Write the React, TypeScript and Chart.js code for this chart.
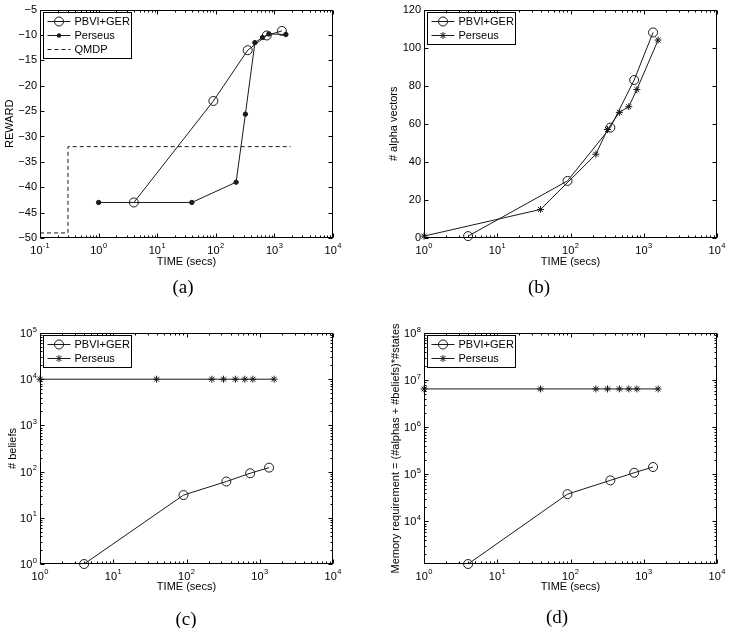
import React, { useEffect, useRef } from "react";
import { Chart, registerables } from "chart.js";

Chart.register(...registerables);

const SANS = "'Liberation Sans', Arial, Helvetica, sans-serif";
const SERIF = "'Liberation Serif', 'Times New Roman', serif";

// Wall-clock time (s) at which each iteration finished
const timePBVI = [4, 91, 350, 740, 1340];
const timePerseus = [1, 39, 222, 320, 465, 625, 805, 1570];

// (a) average reward
const rewardPBVI = [-43, -23, -13, -10.1, -9.2];
const rewardPerseus = [-43, -43, -39, -25.6, -11.5, -10.5, -9.8, -9.9];
const timeQMDP = [0.1, 0.3, 0.3, 1900];
const rewardQMDP = [-49, -49, -32, -32];

// (b) size of the value function
const alphasPBVI = [1, 30, 58, 83, 108];
const alphasPerseus = [1, 15, 44, 57, 66, 69, 78, 104];

// (c) belief set size
const beliefsPBVI = [1, 31, 61, 92, 122];
const beliefsPerseus = [10000, 10000, 10000, 10000, 10000, 10000, 10000, 10000];

// (d) memory = (#alphas + #beliefs) * #states
const memoryPBVI = [1250, 38000, 74500, 108000, 143000];
const memoryPerseus = [6.5e6, 6.5e6, 6.5e6, 6.5e6, 6.5e6, 6.5e6, 6.5e6, 6.5e6];

// axis ticks
const timeTicksA = [0.1, 1, 10, 100, 1000, 10000];
const timeTicks = [1, 10, 100, 1000, 10000];
const rewardTicks = [-50, -45, -40, -35, -30, -25, -20, -15, -10, -5];
const alphaTicks = [0, 20, 40, 60, 80, 100, 120];
const beliefTicks = [1, 10, 100, 1000, 10000, 100000];
const memoryTicks = [10000, 100000, 1000000, 10000000, 100000000];

type Marker = "circle" | "dot" | "star";
type Series = { label: string; x: number[]; y: number[]; marker: Marker; dashed?: boolean };

type PanelDef = {
  id: string;
  canvas: [number, number, number, number]; // left, top, width, height
  plot: [number, number, number, number]; // L, T, R, B (page px)
  xMin: number;
  xMax: number;
  xTicks: number[];
  yLog: boolean;
  yMin: number;
  yMax: number;
  yTicks: number[];
  yTitle: string;
  yTitleX: number;
  xTitle: string;
  xTitleY: number;
  caption: string;
  captionX: number;
  captionY: number;
  series: Series[];
};

const linLabel = (v: number) => String(v).replace("-", "\u2212");
const expOf = (v: number) => String(Math.round(Math.log10(v)));

const panels: PanelDef[] = [
  {
    id: "a",
    canvas: [0, 0, 364, 300],
    plot: [40, 6, 333, 238],
    xMin: 0.1, xMax: 10000, xTicks: timeTicksA,
    yLog: false, yMin: -50, yMax: -5, yTicks: rewardTicks,
    yTitle: "REWARD", yTitleX: 10,
    xTitle: "TIME (secs)", xTitleY: 262,
    caption: "(a)", captionX: 183, captionY: 287,
    series: [
      { label: "PBVI+GER", x: timePBVI, y: rewardPBVI, marker: "circle" },
      { label: "Perseus", x: timePerseus, y: rewardPerseus, marker: "dot" },
      { label: "QMDP", x: timeQMDP, y: rewardQMDP, marker: "dot", dashed: true },
    ],
  },
  {
    id: "b",
    canvas: [364, 0, 365, 300],
    plot: [424, 7, 717, 238],
    xMin: 1, xMax: 10000, xTicks: timeTicks,
    yLog: false, yMin: 0, yMax: 120, yTicks: alphaTicks,
    yTitle: "# alpha vectors", yTitleX: 394,
    xTitle: "TIME (secs)", xTitleY: 262,
    caption: "(b)", captionX: 539, captionY: 287,
    series: [
      { label: "PBVI+GER", x: timePBVI, y: alphasPBVI, marker: "circle" },
      { label: "Perseus", x: timePerseus, y: alphasPerseus, marker: "star" },
    ],
  },
  {
    id: "c",
    canvas: [0, 300, 364, 328],
    plot: [40, 333, 333, 564],
    xMin: 1, xMax: 10000, xTicks: timeTicks,
    yLog: true, yMin: 1, yMax: 100000, yTicks: beliefTicks,
    yTitle: "# beliefs", yTitleX: 13,
    xTitle: "TIME (secs)", xTitleY: 587,
    caption: "(c)", captionX: 186, captionY: 619,
    series: [
      { label: "PBVI+GER", x: timePBVI, y: beliefsPBVI, marker: "circle" },
      { label: "Perseus", x: timePerseus, y: beliefsPerseus, marker: "star" },
    ],
  },
  {
    id: "d",
    canvas: [364, 300, 365, 328],
    plot: [424, 333, 717, 564],
    xMin: 1, xMax: 10000, xTicks: timeTicks,
    yLog: true, yMin: 1250, yMax: 100000000, yTicks: memoryTicks,
    yTitle: "Memory requirement = (#alphas + #beliefs)*#states", yTitleX: 396,
    xTitle: "TIME (secs)", xTitleY: 587,
    caption: "(d)", captionX: 557, captionY: 617,
    series: [
      { label: "PBVI+GER", x: timePBVI, y: memoryPBVI, marker: "circle" },
      { label: "Perseus", x: timePerseus, y: memoryPerseus, marker: "star" },
    ],
  },
];

const LINE = "#1a1a1a";
const MAIN_FONT = `11px ${SANS}`;
const SUP_FONT = `7.5px ${SANS}`;

function drawMarker(ctx: CanvasRenderingContext2D, kind: Marker, x: number, y: number) {
  ctx.beginPath();
  if (kind === "circle") {
    ctx.arc(x, y, 4.5, 0, Math.PI * 2);
    ctx.stroke();
  } else if (kind === "dot") {
    ctx.arc(x, y, 2.2, 0, Math.PI * 2);
    ctx.fill();
  } else {
    const r = 3.5;
    const d = r * Math.SQRT1_2;
    ctx.moveTo(x - r, y); ctx.lineTo(x + r, y);
    ctx.moveTo(x, y - r); ctx.lineTo(x, y + r);
    ctx.moveTo(x - d, y - d); ctx.lineTo(x + d, y + d);
    ctx.moveTo(x - d, y + d); ctx.lineTo(x + d, y - d);
    ctx.stroke();
  }
}

function logMinor(min: number, max: number): number[] {
  const out: number[] = [];
  for (let e = Math.floor(Math.log10(min)); e < Math.ceil(Math.log10(max)); e++) {
    const d = Math.pow(10, e);
    for (let k = 2; k <= 9; k++) {
      const v = k * d;
      if (v > min && v < max) out.push(v);
    }
  }
  return out;
}

// "10" with a raised exponent; anchor is the label's centre (x axis) or right end (y axis)
function powerLabel(
  ctx: CanvasRenderingContext2D,
  v: number,
  x: number,
  baseline: number,
  anchor: "center" | "right"
) {
  const exp = expOf(v);
  ctx.font = MAIN_FONT;
  const w1 = ctx.measureText("10").width;
  ctx.font = SUP_FONT;
  const w2 = ctx.measureText(exp).width;
  const total = w1 + 0.5 + w2;
  const start = anchor === "center" ? x - total / 2 : x - total;
  ctx.textAlign = "left";
  ctx.textBaseline = "alphabetic";
  ctx.font = MAIN_FONT;
  ctx.fillText("10", start, baseline);
  ctx.font = SUP_FONT;
  ctx.fillText(exp, start + w1 + 0.5, baseline - 5.5);
}

// Boxed axes with inward ticks on all sides, axis titles and an inset legend
const matlabFrame = {
  id: "matlabFrame",
  afterDatasetsDraw(chart: any, _args: any, opts: any) {
    const { ctx, chartArea: a } = chart;
    const xs = chart.scales.x;
    const ys = chart.scales.y;
    const L = Math.round(a.left) + 0.5;
    const R = Math.round(a.right) - 0.5;
    const T = Math.round(a.top) + 0.5;
    const B = Math.round(a.bottom) - 0.5;
    ctx.save();
    ctx.strokeStyle = "#000";
    ctx.fillStyle = "#000";
    ctx.lineWidth = 1;

    const xMajor: number[] = xs.ticks.map((t: any) => t.value);
    const xMinor = logMinor(xs.min, xs.max);
    const yMajor: number[] = ys.ticks.map((t: any) => t.value);
    const yMinor = opts.yLog ? logMinor(ys.min, ys.max) : [];

    ctx.beginPath();
    const xTick = (v: number, len: number) => {
      const p = Math.round(xs.getPixelForValue(v)) + 0.5;
      ctx.moveTo(p, B); ctx.lineTo(p, B - len);
      ctx.moveTo(p, T); ctx.lineTo(p, T + len);
    };
    const yTick = (v: number, len: number) => {
      const p = Math.round(ys.getPixelForValue(v)) + 0.5;
      ctx.moveTo(L, p); ctx.lineTo(L + len, p);
      ctx.moveTo(R, p); ctx.lineTo(R - len, p);
    };
    xMajor.forEach((v) => xTick(v, 4));
    xMinor.forEach((v) => xTick(v, 2));
    yMajor.forEach((v) => yTick(v, 4));
    yMinor.forEach((v) => yTick(v, 2));
    ctx.stroke();
    ctx.strokeRect(L, T, R - L, B - T);

    // power-of-ten tick labels for the log axes
    xMajor.forEach((v) => powerLabel(ctx, v, xs.getPixelForValue(v), a.bottom + 15.5, "center"));
    if (opts.yLog) {
      yMajor.forEach((v) => powerLabel(ctx, v, a.left - 3, ys.getPixelForValue(v) + 4, "right"));
    }

    // axis titles
    ctx.font = MAIN_FONT;
    ctx.textAlign = "center";
    ctx.textBaseline = "middle";
    ctx.fillText(opts.xTitle, (a.left + a.right) / 2, opts.xTitleY);
    ctx.save();
    ctx.translate(opts.yTitleX, (a.top + a.bottom) / 2);
    ctx.rotate(-Math.PI / 2);
    ctx.fillText(opts.yTitle, 0, 0);
    ctx.restore();

    // legend
    const ds = chart.data.datasets;
    const rowH = 14;
    const bx = Math.round(a.left) + 3 + 0.5;
    const by = Math.round(a.top) + 2 + 0.5;
    let tw = 0;
    ds.forEach((d: any) => { tw = Math.max(tw, ctx.measureText(d.label).width); });
    const bw = Math.round(31 + tw + 2);
    const bh = rowH * ds.length + 4;
    ctx.fillStyle = "#fff";
    ctx.fillRect(bx, by, bw, bh);
    ctx.strokeStyle = "#000";
    ctx.strokeRect(bx, by, bw, bh);
    ds.forEach((d: any, i: number) => {
      const cy = by + 9 + rowH * i;
      const dashed = d.borderDash && d.borderDash.length;
      ctx.strokeStyle = LINE;
      ctx.fillStyle = LINE;
      ctx.lineWidth = 1;
      ctx.setLineDash(dashed ? [4, 3] : []);
      ctx.beginPath();
      ctx.moveTo(bx + 4, cy);
      ctx.lineTo(bx + 27, cy);
      ctx.stroke();
      ctx.setLineDash([]);
      if (!dashed) drawMarker(ctx, d.marker, bx + 15.5, cy);
      ctx.fillStyle = "#000";
      ctx.textAlign = "left";
      ctx.textBaseline = "middle";
      ctx.fillText(d.label, bx + 31, cy + 0.5);
    });
    ctx.restore();
  },
};

function Panel({ def }: { def: PanelDef }) {
  const ref = useRef<HTMLCanvasElement | null>(null);
  useEffect(() => {
    const canvas = ref.current;
    if (!canvas) return;
    const [cl, ct, cw, ch] = def.canvas;
    const [L, T, R, B] = def.plot;
    const tickFont = { family: SANS, size: 11 };
    const chart = new Chart(canvas, {
      type: "line",
      data: {
        datasets: def.series.map((s) => ({
          label: s.label,
          data: s.x.map((x, i) => ({ x, y: s.y[i] })),
          borderColor: LINE,
          borderWidth: 1,
          borderDash: s.dashed ? [4, 3] : [],
          backgroundColor: LINE,
          pointStyle: s.marker === "star" ? "star" : "circle",
          pointRadius: s.dashed ? 0 : s.marker === "circle" ? 4.5 : s.marker === "dot" ? 2.2 : 3.5,
          pointBorderWidth: 1,
          pointBorderColor: LINE,
          pointBackgroundColor: s.marker === "dot" ? LINE : "rgba(0,0,0,0)",
          tension: 0,
          fill: false,
          clip: false,
          marker: s.marker,
        })) as any,
      },
      options: {
        animation: false,
        responsive: false,
        devicePixelRatio: 1,
        layout: { padding: { top: T - ct, right: cl + cw - R, left: 0, bottom: 0 } },
        plugins: {
          legend: { display: false },
          tooltip: { enabled: false },
          matlabFrame: {
            yLog: def.yLog,
            xTitle: def.xTitle,
            xTitleY: def.xTitleY - ct,
            yTitle: def.yTitle,
            yTitleX: def.yTitleX - cl,
          },
        } as any,
        scales: {
          x: {
            type: "logarithmic",
            min: def.xMin,
            max: def.xMax,
            grid: { display: false, drawTicks: false },
            border: { display: false },
            ticks: { display: false },
            afterBuildTicks: (s: any) => {
              s.ticks = def.xTicks.map((value) => ({ value }));
            },
            afterFit: (s: any) => {
              s.height = ct + ch - B;
            },
          },
          y: {
            type: def.yLog ? "logarithmic" : "linear",
            min: def.yMin,
            max: def.yMax,
            grid: { display: false, drawTicks: false },
            border: { display: false },
            ticks: {
              display: !def.yLog,
              font: tickFont,
              color: "#000",
              padding: 3,
              autoSkip: false,
              callback: (v: any) => linLabel(Number(v)),
            },
            afterBuildTicks: (s: any) => {
              s.ticks = def.yTicks
                .filter((v) => v >= def.yMin && v <= def.yMax)
                .map((value) => ({ value }));
            },
            afterFit: (s: any) => {
              s.width = L - cl;
            },
          },
        } as any,
      },
      plugins: [matlabFrame],
    });
    return () => chart.destroy();
  }, [def]);

  const [cl, ct, cw, ch] = def.canvas;
  return (
    <>
      <canvas
        ref={ref}
        width={cw}
        height={ch}
        style={{ position: "absolute", left: cl, top: ct, width: cw, height: ch }}
      />
      <div
        style={{
          position: "absolute",
          left: def.captionX,
          top: def.captionY,
          transform: "translate(-50%, -50%)",
          fontFamily: SERIF,
          fontSize: 19,
          lineHeight: "20px",
          color: "#000",
          whiteSpace: "nowrap",
        }}
      >
        {def.caption}
      </div>
    </>
  );
}

export default function App() {
  return (
    <div
      style={{
        position: "absolute",
        left: 0,
        top: 0,
        width: 729,
        height: 628,
        background: "#fff",
        overflow: "hidden",
      }}
    >
      {panels.map((p) => (
        <Panel key={p.id} def={p} />
      ))}
    </div>
  );
}
